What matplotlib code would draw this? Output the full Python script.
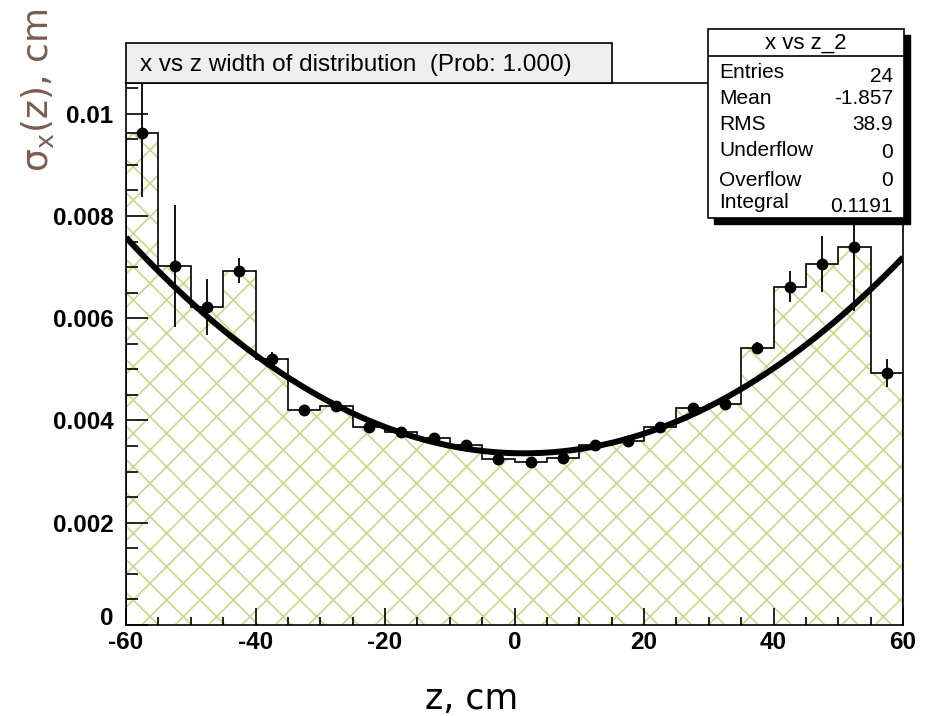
import numpy as np
import matplotlib
matplotlib.use("Agg")
import matplotlib.pyplot as plt
from matplotlib.patches import Rectangle
from matplotlib.lines import Line2D
from matplotlib.ticker import MultipleLocator, FixedLocator, FixedFormatter

# ---- data -------------------------------------------------------------
bin_edges = list(range(-60, 61, 5))
bin_centers = [e + 2.5 for e in bin_edges[:-1]]
sigma_x = [0.00963, 0.00702, 0.00622, 0.00693, 0.00521, 0.00421,
           0.00428, 0.00387, 0.00378, 0.00366, 0.00352, 0.00324,
           0.00318, 0.00327, 0.00352, 0.00360, 0.00387, 0.00424,
           0.00432, 0.00542, 0.00662, 0.00706, 0.00740, 0.00493]
sigma_err = [0.00125, 0.00120, 0.00054, 0.00025, 0.00012, 0.00008,
             0.00008, 0.00007, 0.00007, 0.00007, 0.00006, 0.00006,
             0.00006, 0.00006, 0.00006, 0.00007, 0.00007, 0.00008,
             0.00009, 0.00012, 0.00031, 0.00055, 0.00125, 0.00027]
fit_coeffs = [3.36e-3, -3.25e-6, 1.118e-6]   # p0 + p1*z + p2*z^2

x_ticks = [-60, -40, -20, 0, 20, 40, 60]
x_tick_labels = ["-60", "-40", "-20", "0", "20", "40", "60"]
y_ticks = [0, 0.002, 0.004, 0.006, 0.008, 0.01]
y_tick_labels = ["0", "0.002", "0.004", "0.006", "0.008", "0.01"]

title_text = "x vs z width of distribution  (Prob: 1.000)"
stats_title = "x vs z_2"
stats_rows = [("Entries", "24"), ("Mean", "-1.857"), ("RMS", "38.9"),
              ("Underflow", "0"), ("Overflow", "0"), ("Integral", "0.1191")]

# ---- figure -----------------------------------------------------------
W, H = 926, 716
fig = plt.figure(figsize=(W / 100, H / 100), dpi=100)
fig.patch.set_facecolor("white")


def fx(px):
    return px / W


def fy(py):
    return 1 - py / H


ax_left, ax_right, ax_top, ax_bottom = 126, 903, 83, 625
ax = fig.add_axes([fx(ax_left), fy(ax_bottom),
                   fx(ax_right - ax_left), (ax_bottom - ax_top) / H])
ax.set_xlim(-60, 60)
ax.set_ylim(0, 0.0106)

hatch_col = "#cad889"
plt.rcParams["hatch.linewidth"] = 1.2
ax.stairs(sigma_x, bin_edges, fill=True, facecolor="none",
          edgecolor=hatch_col, hatch="x", linewidth=0, zorder=1)
ax.stairs(sigma_x, bin_edges, baseline=0, color="black", linewidth=1.2,
          zorder=2)

z = np.linspace(-60, 60, 400)
fit = fit_coeffs[0] + fit_coeffs[1] * z + fit_coeffs[2] * z ** 2
ax.plot(z, fit, color="black", linewidth=4.3, solid_capstyle="butt", zorder=3)

ax.errorbar(bin_centers, sigma_x, yerr=sigma_err, fmt="o", color="black",
            markersize=7.5, elinewidth=1.3, capsize=0, zorder=4)

# axis ticks
ax.xaxis.set_major_locator(FixedLocator(x_ticks))
ax.xaxis.set_major_formatter(FixedFormatter(x_tick_labels))
ax.xaxis.set_minor_locator(MultipleLocator(5))
ax.yaxis.set_major_locator(FixedLocator(y_ticks))
ax.yaxis.set_major_formatter(FixedFormatter(y_tick_labels))
ax.yaxis.set_minor_locator(MultipleLocator(0.0005))
ax.tick_params(axis="both", which="both", direction="in", top=False,
               right=False, width=1.2, color="black")
ax.tick_params(axis="x", which="major", length=12, pad=4)
ax.tick_params(axis="x", which="minor", length=6)
ax.tick_params(axis="y", which="major", length=16, pad=9)
ax.tick_params(axis="y", which="minor", length=8.5)
for lab in ax.get_xticklabels() + ax.get_yticklabels():
    lab.set_fontfamily("Liberation Sans")
    lab.set_fontweight("bold")
    lab.set_fontsize(17.5)
# the "0" of the y axis sits just above the first x label
ax.yaxis.get_major_ticks()[0].label1.set_verticalalignment("baseline")
for sp in ax.spines.values():
    sp.set_linewidth(1.2)
    sp.set_color("black")

# axis titles
fig.text(fx(472), fy(709), "z, cm", ha="center", va="baseline",
         fontsize=25, family="DejaVu Sans", color="black")
fig.text(fx(37), fy(90), r"$\mathregular{\sigma_x}$(z), cm", ha="center",
         va="center", rotation=90, fontsize=26, family="DejaVu Sans",
         color="#7b5c50")

# title box
fig.add_artist(Rectangle((fx(126), fy(83)), fx(612 - 126), (83 - 43) / H,
                         transform=fig.transFigure, facecolor="#efefef",
                         edgecolor="black", linewidth=1.2, zorder=10))
fig.text(fx(140), fy(65), title_text, ha="left", va="center",
         fontsize=17.5, family="Liberation Sans", color="black", zorder=11)

# statistics box with shadow
bx0, by0, bx1, by1 = 708, 29, 904, 218
fig.add_artist(Rectangle((fx(bx0 + 6), fy(by1 + 6)), fx(bx1 - bx0),
                         (by1 - by0) / H, transform=fig.transFigure,
                         facecolor="black", edgecolor="black", zorder=10))
fig.add_artist(Rectangle((fx(bx0), fy(by1)), fx(bx1 - bx0), (by1 - by0) / H,
                         transform=fig.transFigure, facecolor="white",
                         edgecolor="black", linewidth=1.2, zorder=11))
fig.add_artist(Line2D([fx(bx0), fx(bx1)], [fy(56), fy(56)],
                      transform=fig.transFigure, color="black",
                      linewidth=1.2, zorder=12))
fig.text(fx((bx0 + bx1) / 2), fy(43), stats_title, ha="center", va="center",
         fontsize=16, family="Liberation Sans", color="black", zorder=12)
label_y = [72, 98, 125, 151, 180, 202]
value_y = [76, 98, 125, 152, 181, 207]
for (name, val), ly, vy in zip(stats_rows, label_y, value_y):
    fig.text(fx(719), fy(ly), name, ha="left", va="center", fontsize=15,
             family="Liberation Sans", color="black", zorder=12)
    fig.text(fx(893), fy(vy), val, ha="right", va="center", fontsize=15,
             family="Liberation Sans", color="black", zorder=12)

fig.savefig("out.png", dpi=100)
